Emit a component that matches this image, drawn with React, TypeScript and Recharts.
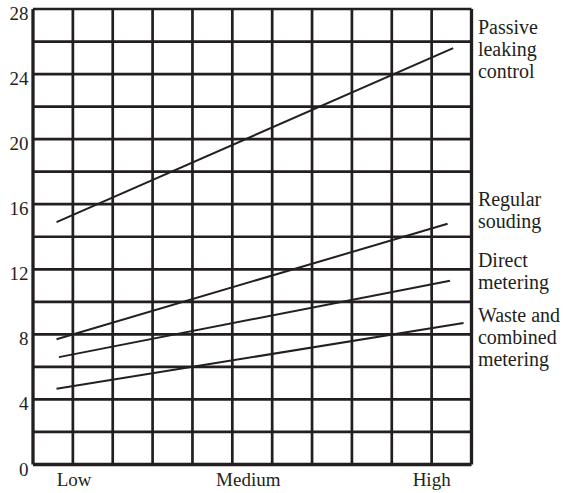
import React from 'react';
import { LineChart, Line, XAxis, YAxis, ReferenceLine, ReferenceDot } from 'recharts';

// Data (x in grid-column units, y in chart units)
const passiveX = [0.59, 10.54];
const passiveY = [14.9, 25.6];
const regularX = [0.59, 10.4];
const regularY = [7.7, 14.8];
const directX = [0.65, 10.46];
const directY = [6.6, 11.3];
const wasteX = [0.59, 10.8];
const wasteY = [4.65, 8.7];

const xTickValues = [1.03, 5.4, 10];
const xTickLabels = ['Low', 'Medium', 'High'];
const yTicks = [0, 4, 8, 12, 16, 20, 24, 28];
const gridX = [0, 1, 2, 3, 4, 5, 6, 7, 8, 9, 10, 11];
const gridY = [0, 2, 4, 6, 8, 10, 12, 14, 16, 18, 20, 22, 24, 26, 28];

const seriesNames = ['Passive leaking control', 'Regular souding', 'Direct metering', 'Waste and combined metering'];
const labelLines = [
  ['Passive', 'leaking', 'control'],
  ['Regular', 'souding'],
  ['Direct', 'metering'],
  ['Waste and', 'combined', 'metering'],
];
const labelX = [11.16, 11.16, 11.16, 11.16];
const labelY = [26.45, 15.89, 12.14, 8.76];

const INK = '#231f20';
const FONT = '"Liberation Serif", "Times New Roman", serif';

const mk = (xs: number[], ys: number[]) => xs.map((x, i) => ({ x, y: ys[i] }));
const series = [
  mk(passiveX, passiveY),
  mk(regularX, regularY),
  mk(directX, directY),
  mk(wasteX, wasteY),
];

const XTick = (props: any) => {
  const { x, y, payload } = props;
  const idx = xTickValues.indexOf(payload.value);
  return (
    <text x={x} y={y} dy={21} textAnchor="middle" fontFamily={FONT} fontSize={19} fill={INK}>
      {xTickLabels[idx]}
    </text>
  );
};

const YTick = (props: any) => {
  const { x, y, payload } = props;
  return (
    <text x={x} y={y} dy={11} textAnchor="end" fontFamily={FONT} fontSize={19} fill={INK}>
      {payload.value}
    </text>
  );
};

const makeLabel = (lines: string[]) => (props: any) => {
  const vb = props.viewBox || {};
  const x = (vb.x ?? 0) + (vb.width ?? 0) / 2;
  const y = (vb.y ?? 0) + (vb.height ?? 0) / 2;
  return (
    <text x={x} y={y} fontFamily={FONT} fontSize={20} fill={INK}>
      {lines.map((l, i) => (
        <tspan key={i} x={x} y={y + i * 22}>
          {l}
        </tspan>
      ))}
    </text>
  );
};

export default function App() {
  return (
    <div style={{ position: 'absolute', left: 0, top: 0, background: '#fff' }}>
      <LineChart width={563} height={493} margin={{ top: 9, right: 91.5, bottom: 0, left: 0 }}>
        <XAxis
          type="number"
          dataKey="x"
          domain={[0, 11]}
          ticks={xTickValues}
          tick={<XTick />}
          tickLine={false}
          axisLine={false}
          tickSize={0}
          tickMargin={0}
          height={28.5}
          allowDataOverflow
        />
        <YAxis
          type="number"
          domain={[0, 28]}
          ticks={yTicks}
          tick={<YTick />}
          tickLine={false}
          axisLine={false}
          tickSize={0}
          tickMargin={4.5}
          width={33}
          allowDataOverflow
        />
        {gridY.map((v) => (
          <ReferenceLine key={'h' + v} y={v} stroke={INK} strokeWidth={v === 0 ? 3.5 : 2.7} />
        ))}
        {gridX.map((v) => (
          <ReferenceLine key={'v' + v} x={v} stroke={INK} strokeWidth={v === 0 || v === 11 ? 3.3 : 2.7} />
        ))}
        {series.map((d, i) => (
          <Line
            key={seriesNames[i]}
            name={seriesNames[i]}
            data={d}
            dataKey="y"
            type="linear"
            stroke={INK}
            strokeWidth={2}
            dot={false}
            activeDot={false}
            isAnimationActive={false}
          />
        ))}
        {labelLines.map((lines, i) => (
          <ReferenceDot
            key={'lab' + i}
            x={labelX[i]}
            y={labelY[i]}
            r={0}
            fill="none"
            stroke="none"
            ifOverflow="visible"
            label={{ content: makeLabel(lines) }}
          />
        ))}
      </LineChart>
    </div>
  );
}
